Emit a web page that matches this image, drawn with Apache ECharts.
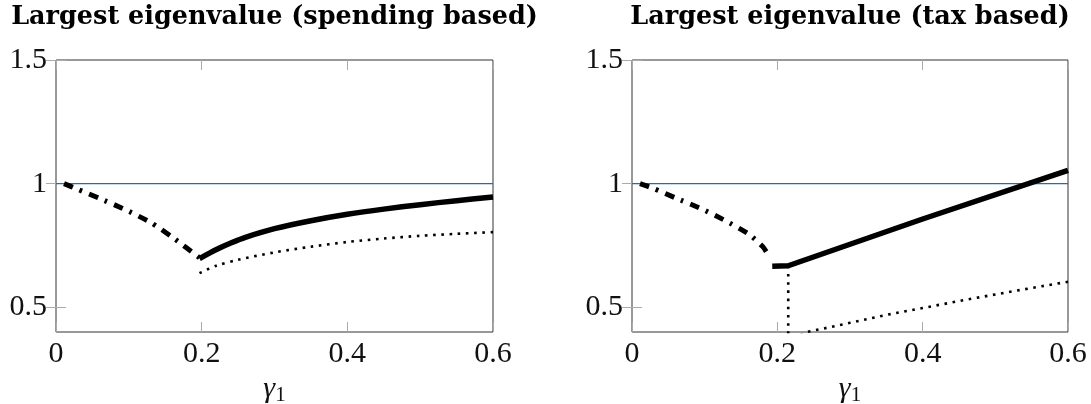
<!DOCTYPE html>
<html><head><meta charset="utf-8">
<script src="https://cdn.jsdelivr.net/npm/echarts@6/dist/echarts.min.js"></script>
<style>html,body{margin:0;padding:0;background:#fff}#c{width:1091px;height:404px}</style>
</head><body><div id="c"></div><script>
const titles = ['Largest eigenvalue (spending based)', 'Largest eigenvalue (tax based)'];
const xTicks = [0, 0.2, 0.4, 0.6];
const yTicks = [0.5, 1, 1.5];
const refLine = [[0, 1], [0.6, 1]];

// spending based panel
const spendDashDot = [[0.011,1.0],[0.03,0.977],[0.06,0.940],[0.095,0.895],[0.13,0.843],[0.16,0.783],[0.197,0.700]];
const spendSolid = [[0.197,0.697],[0.21,0.718],[0.221,0.735],[0.24,0.760],[0.26,0.783],[0.3,0.818],[0.35,0.850],[0.4,0.876],[0.45,0.897],[0.5,0.915],[0.55,0.931],[0.6,0.946]];
const spendDotted = [[0.197,0.638],[0.22,0.668],[0.25,0.692],[0.3,0.722],[0.35,0.745],[0.4,0.764],[0.45,0.778],[0.5,0.789],[0.55,0.797],[0.6,0.804]];

// tax based panel
const taxDashDot = [[0.011,1.0],[0.03,0.98],[0.06,0.942],[0.095,0.899],[0.128,0.851],[0.16,0.797],[0.18,0.745],[0.19,0.70]];
const taxSolid = [[0.193,0.666],[0.215,0.668],[0.4,0.857],[0.6,1.054]];
const taxDotted = [[0.215,0.668],[0.215,0.36],[0.24,0.40],[0.27,0.418],[0.3,0.437],[0.35,0.469],[0.4,0.497],[0.45,0.525],[0.5,0.552],[0.55,0.578],[0.6,0.603]];

const panels = [
  {title: titles[0], dashdot: spendDashDot, solid: spendSolid, dotted: spendDotted, smooth: 0.3},
  {title: titles[1], dashdot: taxDashDot, solid: taxSolid, dotted: taxDotted, smooth: false}
];

const gridPos = [{left: 56, width: 437}, {left: 632, width: 436}];
const TOP = 60, BOTTOM = 72;
const numFont = '"Liberation Serif", serif';
const tickStyle = {show: true, inside: true, length: 10, lineStyle: {color: '#aaa', width: 1}};

const grid = [], xAxis = [], yAxis = [], series = [], graphic = [];
panels.forEach((p, i) => {
  grid.push({left: gridPos[i].left, width: gridPos[i].width, top: TOP, bottom: BOTTOM,
    outerBoundsMode: 'none', containLabel: false,
    show: true, borderColor: '#333', borderWidth: 1, backgroundColor: 'transparent'});
  const xBase = {gridIndex: i, type: 'value', min: xTicks[0], max: xTicks[xTicks.length-1], interval: 0.2,
    splitLine: {show: false}, axisLine: {show: false}};
  xAxis.push(Object.assign({}, xBase, {position: 'bottom', axisTick: tickStyle,
    axisLabel: {show: true, fontFamily: numFont, fontSize: 30, color: '#111', margin: 7,
      formatter: v => String(+v.toFixed(1))},
    name: '{g|γ}{s|1}', nameLocation: 'middle', nameGap: 41,
    nameTextStyle: {rich: {g: {fontFamily: numFont, fontStyle: 'italic', fontSize: 30, color: '#111'},
      s: {fontFamily: numFont, fontSize: 21, color: '#111', padding: [12, 0, 0, 0]}}}}));
  xAxis.push(Object.assign({}, xBase, {position: 'top', axisTick: tickStyle, axisLabel: {show: false}}));
  const yBase = {gridIndex: i, type: 'value', min: 0.4, max: 1.5, splitLine: {show: false}, axisLine: {show: false}};
  yAxis.push(Object.assign({}, yBase, {position: 'left',
    axisTick: Object.assign({}, tickStyle, {customValues: yTicks}),
    axisLabel: {show: true, customValues: yTicks, fontFamily: numFont, fontSize: 30, color: '#111', margin: 9}}));
  yAxis.push(Object.assign({}, yBase, {position: 'right',
    axisTick: Object.assign({}, tickStyle, {customValues: yTicks}), axisLabel: {show: false}}));
  const xi = i * 2, yi = i * 2;
  series.push({type: 'line', xAxisIndex: xi, yAxisIndex: yi, data: refLine, showSymbol: false, silent: true,
    lineStyle: {color: '#1f6db3', width: 1.2}, z: 1});
  series.push({type: 'line', xAxisIndex: xi, yAxisIndex: yi, data: p.dashdot, showSymbol: false, smooth: 0.2,
    lineStyle: {color: '#000', width: 5, type: [9.5, 7.5, 2.6, 7.5], cap: 'butt'}, z: 3});
  series.push({type: 'line', xAxisIndex: xi, yAxisIndex: yi, data: p.solid, showSymbol: false, smooth: p.smooth,
    lineStyle: {color: '#000', width: 5.5}, z: 3});
  series.push({type: 'line', xAxisIndex: xi, yAxisIndex: yi, data: p.dotted, showSymbol: false, smooth: p.smooth,
    lineStyle: {color: '#000', width: 2.6, type: [2.6, 5.6], cap: 'butt'}, z: 2});
  graphic.push({type: 'text', x: gridPos[i].left + gridPos[i].width / 2, y: 17,
    style: {text: p.title, font: 'bold 25.5px "DejaVu Serif"', fill: '#000', align: 'center', verticalAlign: 'middle'}});
});

const chart = echarts.init(document.getElementById('c'), null, {renderer: 'canvas'});
chart.setOption({animation: false, backgroundColor: '#fff', grid, xAxis, yAxis, series, graphic});
</script></body></html>
